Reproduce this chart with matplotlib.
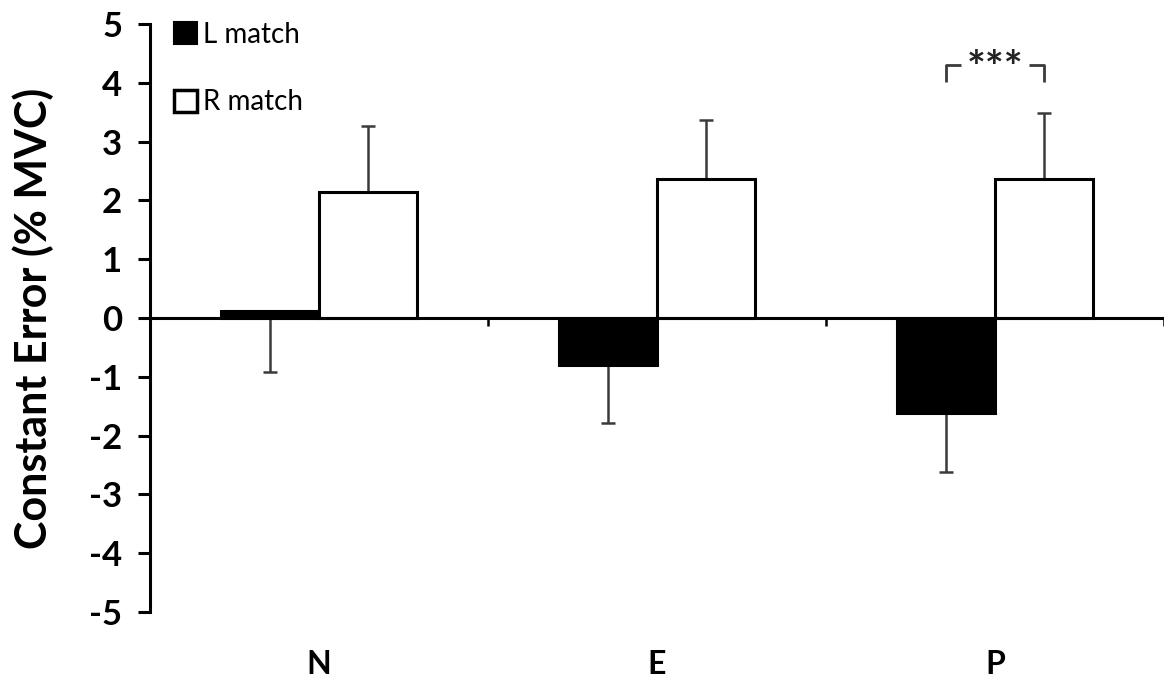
import matplotlib
matplotlib.use("Agg")
import matplotlib.pyplot as plt
import numpy as np
from matplotlib.patches import Patch

categories = ["N", "E", "P"]
l_match = [0.12, -0.80, -1.62]
r_match = [2.14, 2.36, 2.36]
l_err = [1.04, 0.99, 1.00]
r_err = [1.12, 1.01, 1.13]
yticks = [5, 4, 3, 2, 1, 0, -1, -2, -3, -4, -5]
sig_label = "***"
sig_index = 2

plt.rcParams['font.family'] = ['Lato', 'DejaVu Sans']

fig = plt.figure(figsize=(11.64, 6.81), dpi=100)
ax = fig.add_axes([0.1289, 0.1013, 0.8711, 0.8635])

x = np.arange(len(categories))
w = 0.29
err_col = '#3a3a3a'

# error bars (one-sided, away from zero side)
ax.errorbar(x - w / 2, l_match, yerr=[l_err, [0] * len(l_err)], fmt='none',
            ecolor=err_col, elinewidth=1.8, capsize=5, capthick=1.8, zorder=1)
ax.errorbar(x + w / 2, r_match, yerr=[[0] * len(r_err), r_err], fmt='none',
            ecolor=err_col, elinewidth=1.8, capsize=5, capthick=1.8, zorder=1)

ax.bar(x - w / 2, l_match, w, color='black', edgecolor='black', linewidth=2.2, zorder=2)
ax.bar(x + w / 2, r_match, w, color='white', edgecolor='black', linewidth=2.2, zorder=2)

ax.set_xlim(-0.5, len(categories) - 0.5)
ax.set_ylim(-5, 5)

ax.spines['top'].set_visible(False)
ax.spines['right'].set_visible(False)
ax.spines['bottom'].set_position(('data', 0))
ax.spines['bottom'].set_linewidth(2.2)
ax.spines['left'].set_linewidth(2.2)
ax.spines['bottom'].set_zorder(3)

ax.set_yticks(yticks)
ax.set_yticklabels([str(t) for t in yticks], fontsize=25, fontweight='bold')
ax.tick_params(axis='y', length=9, width=2.2, pad=11)
ax.set_xticks(np.arange(len(categories)) + 0.5)
ax.set_xticklabels([])
ax.tick_params(axis='x', length=6, width=1.8, direction='out')

ax.set_ylabel("Constant Error (% MVC)", fontsize=31, fontweight='bold', labelpad=25)

for i, c in enumerate(categories):
    ax.text(x[i], -0.09, c, transform=ax.get_xaxis_transform(), ha='center',
            va='center', fontsize=23, fontweight='bold')

# significance bracket
xl = x[sig_index] - w / 2
xr = x[sig_index] + w / 2
ytop = r_match[sig_index] + r_err[sig_index] + 0.82
ybot = ytop - 0.3
gap = 0.1
ax.plot([xl, xl, x[sig_index] - gap], [ybot, ytop, ytop], color=err_col, lw=2.0,
        solid_capstyle='butt')
ax.plot([x[sig_index] + gap, xr, xr], [ytop, ytop, ybot], color=err_col, lw=2.0,
        solid_capstyle='butt')
ax.text(x[sig_index], ytop - 0.08, sig_label, ha='center', va='center', fontsize=32,
        fontweight='bold', color='#222222')

handles = [Patch(facecolor='black', edgecolor='black', linewidth=1.5, label='L match'),
           Patch(facecolor='white', edgecolor='black', linewidth=2.5, label='R match')]
ax.legend(handles=handles, loc='upper left', bbox_to_anchor=(0.013, 1.023), frameon=False,
          fontsize=20, handlelength=0.8, handleheight=0.85, handletextpad=0.25,
          labelspacing=1.5, borderaxespad=0)

fig.savefig("out.png", dpi=100)
